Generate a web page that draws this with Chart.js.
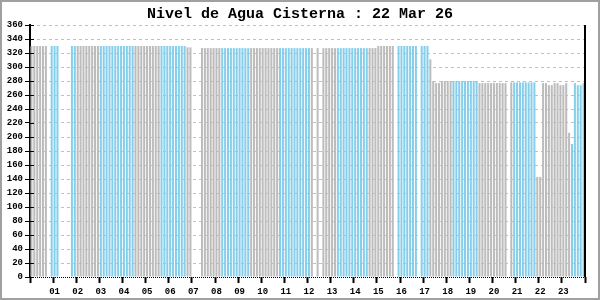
<!DOCTYPE html>
<html>
<head>
<meta charset="utf-8">
<script src="https://cdn.jsdelivr.net/npm/chart.js@4/dist/chart.umd.min.js"></script>
<style>
  body { margin: 0; background: #fff; }
  canvas { display: block; }
</style>
</head>
<body>
<canvas id="chart" width="600" height="300"></canvas>
<script>
// one sample every 3 hours, 8 per day
let days = ['28', '01', '02', '03', '04', '05', '06', '07', '08', '09', '10', '11',
            '12', '13', '14', '15', '16', '17', '18', '19', '20', '21', '22', '23'];
let hours = ['00', '03', '06', '09', '12', '15', '18', '21'];
let tickLabels = ['', '01', '02', '03', '04', '05', '06', '07', '08', '09', '10', '11',
                  '12', '13', '14', '15', '16', '17', '18', '19', '20', '21', '22', '23', ''];

let nivel = [
  330, 330, 330, 330, 330, 330, null, 330,
  330, 330, null, null, null, null, 330, 330,
  330, 330, 330, 330, 330, 330, 330, 330,
  330, 330, 330, 330, 330, 330, 330, 330,
  330, 330, 330, 330, 330, 330, 330, 330,
  330, 330, 330, 330, 330, 330, 330, 330,
  330, 330, 330, 330, 330, 330, 328, 328,
  null, null, null, 327, 327, 327, 327, 327,
  327, 327, 327, 327, 327, 327, 327, 327,
  327, 327, 327, 327, 327, 327, 327, 327,
  327, 327, 327, 327, 327, 327, 327, 327,
  327, 327, 327, 327, 327, 327, 327, 327,
  327, 327, null, 327, null, 327, 327, 327,
  327, 327, 327, 327, 327, 327, 327, 327,
  327, 327, 327, 327, 327, 327, 327, 327,
  330, 330, 330, 330, 330, 330, null, 330,
  330, 330, 330, 330, 330, 330, null, 330,
  330, 330, 311, 280, 277, 277, 280, 280,
  280, 280, 280, 280, 280, 280, 280, 280,
  280, 280, 280, 277, 277, 277, 277, 277,
  277, 277, 277, 277, 277, null, 278, 278,
  278, 278, 278, 278, 278, 278, 278, 143,
  143, 277, 277, 274, 274, 277, 277, 274,
  274, 277, 206, 190, 277, 274, 274, 277
];

// index where the bar colour switches, starting with gray
let colorSwitch = [0, 7, 16, 24, 36, 45, 54, 66, 76, 86, 97, 106, 117, 127, 138, 146, 155, 167, 175, 187];

let cyan = '#87ceeb';
let gray = '#bcbcbc';

let labels = [];
days.forEach(d => hours.forEach(h => labels.push(d + ' ' + h)));

let fills = [];
let block = 0;
for (let i = 0; i < nivel.length; i++) {
    while (block + 1 < colorSwitch.length && i >= colorSwitch[block + 1]) block++;
    fills.push(block % 2 === 0 ? gray : cyan);
}

let monoFont = { family: "'Liberation Mono', 'DejaVu Sans Mono', monospace", size: 9, weight: 'bold' };

let framePlugin = {
    id: 'frame',
    beforeDraw(chart) {
        let c = chart.ctx;
        c.save();
        c.fillStyle = '#fff';
        c.fillRect(0, 0, chart.width, chart.height);
        c.restore();
    },
    afterDraw(chart) {
        let c = chart.ctx;
        let area = chart.chartArea;
        let y = chart.scales.y;
        c.save();
        // right border of plot
        c.strokeStyle = '#000';
        c.lineWidth = 2;
        c.beginPath();
        c.moveTo(area.right, area.top);
        c.lineTo(area.right, area.bottom);
        c.stroke();
        // y ticks crossing into the plot
        c.lineWidth = 1;
        y.ticks.forEach(t => {
            let py = Math.round(y.getPixelForValue(t.value)) + 0.5;
            c.beginPath();
            c.moveTo(area.left, py);
            c.lineTo(area.left + 4, py);
            c.stroke();
        });
        // outer frame
        c.strokeStyle = '#a0a0a0';
        c.lineWidth = 2;
        c.strokeRect(1, 1, chart.width - 2, chart.height - 2);
        c.restore();
    }
};

let ctx = document.getElementById('chart').getContext('2d');
let chart = new Chart(ctx, {
    type: 'bar',
    data: {
        labels: labels,
        datasets: [{
            data: nivel,
            backgroundColor: fills,
            borderWidth: 0,
            categoryPercentage: 1,
            barPercentage: 0.7
        }]
    },
    options: {
        responsive: false,
        animation: false,
        devicePixelRatio: 1,
        layout: { padding: { left: 0, right: 0, top: 0, bottom: 2 } },
        plugins: {
            legend: { display: false },
            tooltip: { enabled: false },
            title: {
                display: true,
                text: 'Nivel de Agua Cisterna : 22 Mar 26',
                color: '#000',
                font: { family: "'Liberation Mono', 'DejaVu Sans Mono', monospace", size: 15, weight: 'bold' },
                padding: { top: 5, bottom: 2 }
            }
        },
        scales: {
            x: {
                grid: {
                    drawOnChartArea: false,
                    tickLength: 6,
                    tickWidth: 2,
                    tickColor: c => (c.type !== 'tick' || c.index % 8 === 0) ? '#000' : 'rgba(0,0,0,0)'
                },
                border: { display: false },
                ticks: {
                    autoSkip: false,
                    maxRotation: 0,
                    padding: 3,
                    color: '#000',
                    font: monoFont,
                    callback: (v, i) => i % 8 === 0 ? tickLabels[i / 8] : ''
                },
                afterFit: s => { s.height = 21; }
            },
            y: {
                min: 0,
                max: 360,
                ticks: {
                    stepSize: 20,
                    padding: 2,
                    color: '#000',
                    font: monoFont
                },
                grid: {
                    color: c => c.tick && c.tick.value === 0 ? '#000' : '#c0c0c0',
                    tickColor: '#000',
                    tickLength: 5,
                    tickBorderDash: []
                },
                border: {
                    color: '#000',
                    width: 2,
                    dash: c => c.tick && c.tick.value === 0 ? [1, 1] : [3, 3]
                },
                afterFit: s => { s.width = 30; }
            },
            // empty right margin so the title stays centred on the page
            yRight: {
                position: 'right',
                min: 0,
                max: 360,
                ticks: { display: false },
                grid: { display: false },
                border: { display: false },
                afterFit: s => { s.width = 15; }
            }
        }
    },
    plugins: [framePlugin]
});
</script>
</body>
</html>
